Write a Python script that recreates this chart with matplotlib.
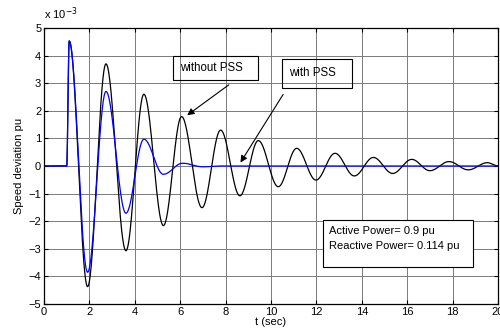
import numpy as np
import matplotlib
matplotlib.use("Agg")
import matplotlib.pyplot as plt
from matplotlib.patches import Rectangle

plt.rcParams['font.family'] = ['Liberation Sans', 'DejaVu Sans']

# extremos (t en s, valores en 1e-3 pu)
t_sin = [0.0, 1.0, 1.11, 1.92, 2.73, 3.61, 4.40, 5.26, 6.06, 6.96, 7.78, 8.63,
         9.44, 10.32, 11.13, 11.98, 12.82, 13.67, 14.51, 15.36, 16.20, 17.00,
         17.84, 18.69, 19.53, 20.0]
w_sin = [0.0, 0.0, 4.53, -4.37, 3.70, -3.07, 2.60, -2.16, 1.79, -1.51, 1.30, -1.08,
         0.92, -0.75, 0.64, -0.51, 0.46, -0.36, 0.31, -0.27, 0.24, -0.17,
         0.16, -0.14, 0.12, 0.0]

t_con = [0.0, 1.0, 1.11, 1.92, 2.73, 3.61, 4.40, 5.26, 6.10, 7.00, 7.80, 20.0]
w_con = [0.0, 0.0, 4.53, -3.85, 2.70, -1.71, 0.97, -0.30, 0.10, -0.03, 0.0, 0.0]

xticks = list(range(0, 21, 2))
yticks = list(range(-5, 6))


def curva(tk, wk, n=60):
    # tramos tipo coseno entre extremos consecutivos
    tt, ww = [], []
    for i in range(len(tk) - 1):
        s = np.linspace(0, 1, n, endpoint=False)
        tt.append(tk[i] + (tk[i + 1] - tk[i]) * s)
        ww.append(wk[i] + (wk[i + 1] - wk[i]) * (1 - np.cos(np.pi * s)) / 2)
    tt.append([tk[-1]])
    ww.append([wk[-1]])
    return np.concatenate(tt), np.concatenate(ww)


fig = plt.figure(figsize=(5.0, 3.33), dpi=100)
ax = fig.add_axes([44 / 500, 1 - 304 / 333, 454 / 500, 276 / 333])

tb, wb = curva(t_sin, w_sin)
ta, wa = curva(t_con, w_con)
ax.plot(tb, wb, color='k', lw=0.9)
ax.plot(ta, wa, color='#0000ff', lw=0.9)

ax.set_xlim(0, 20)
ax.set_ylim(-5, 5)
ax.set_xticks(xticks)
ax.set_yticks(yticks)
ax.grid(True, color='#7a7a7a', lw=0.7)
ax.tick_params(direction='in', top=True, right=True, labelsize=8, length=3, pad=2)
for sp in ax.spines.values():
    sp.set_linewidth(0.9)

ax.set_xlabel('t (sec)', fontsize=8, labelpad=0)
ax.set_ylabel('Speed deviation pu', fontsize=8, labelpad=3)
ax.text(0.0, 5.2, r'x 10$^{-3}$', fontsize=8, ha='left', va='bottom')

# recuadros y flechas
ax.add_patch(Rectangle((5.68, 3.12), 3.75, 0.87, fill=False, ec='k', lw=0.8, zorder=5))
ax.text(5.98, 3.55, 'without PSS', fontsize=8.3, va='center', ha='left', zorder=6)
ax.annotate('', xy=(6.21, 1.78), xytext=(8.24, 3.0),
            arrowprops=dict(arrowstyle='-|>', color='k', lw=0.8, mutation_scale=10))

ax.add_patch(Rectangle((10.48, 2.83), 3.09, 1.05, fill=False, ec='k', lw=0.8, zorder=5))
ax.text(10.78, 3.37, 'with PSS', fontsize=8.3, va='center', ha='left', zorder=6)
ax.annotate('', xy=(8.59, 0.04), xytext=(10.6, 2.68),
            arrowprops=dict(arrowstyle='-|>', color='k', lw=0.8, mutation_scale=10))

ax.add_patch(Rectangle((12.29, -3.66), 6.61, 1.70, fc='white', ec='k', lw=0.8, zorder=5))
ax.text(12.56, -2.36, 'Active Power= 0.9 pu', fontsize=8, va='center', ha='left', zorder=6)
ax.text(12.56, -2.90, 'Reactive Power= 0.114 pu', fontsize=8, va='center', ha='left', zorder=6)

fig.savefig('out.png', dpi=100)
